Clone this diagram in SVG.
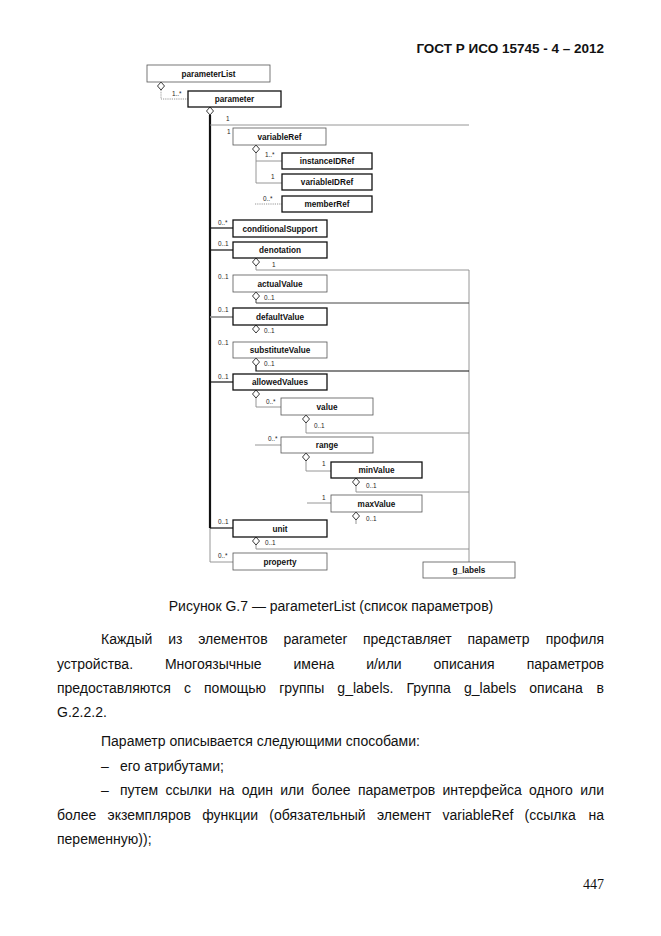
<svg xmlns="http://www.w3.org/2000/svg" width="661" height="936" viewBox="0 0 661 936">
<defs>
<style>
.bg{fill:#fff}
.bx{fill:#fff;stroke:#555;stroke-width:0.8}
.bk{fill:#fff;stroke:#111;stroke-width:1.3}
.lb{font-family:"Liberation Sans",Arial,sans-serif;font-size:8.2px;font-weight:bold;fill:#111;text-anchor:middle}
.m{font-family:"Liberation Sans",Arial,sans-serif;font-size:6.4px;fill:#222}
.g{fill:none;stroke:#8a8a8a;stroke-width:0.9}
.gd{fill:none;stroke:#8a8a8a;stroke-width:0.9;stroke-dasharray:1.2 1}
.k{fill:none;stroke:#111;stroke-width:1.2}
.dk{fill:none;stroke:#444;stroke-width:1}
.dm{fill:#fff;stroke:#222;stroke-width:0.9}
.t{font-family:"Liberation Sans",Arial,sans-serif;font-size:14px;fill:#111}
.e{text-anchor:end}
</style>
<path id="dia" d="M0,0 L3.5,4 L0,8 L-3.5,4 Z"/>
</defs>
<rect class="bg" x="0" y="0" width="661" height="936"/>

<text x="604" y="53" font-family="Liberation Sans, Arial, sans-serif" font-size="13.5" font-weight="bold" text-anchor="end" fill="#111">ГОСТ Р ИСО 15745 - 4 – 2012</text>

<g id="connectors">
<path class="gd" d="M161 90 V99 H188"/>
<path fill="none" stroke="#111" stroke-width="2.2" d="M210 115 V528"/>
<path class="g" d="M210 528 V562 H233"/>
<path class="g" d="M210 125 H469"/>
<path class="g" d="M256 153 V183 H282 M256 161 H282"/>
<path class="gd" d="M255 204 H282"/>
<path class="k" d="M210 228 H233"/>
<path class="k" d="M210 250 H233"/>
<path class="g" d="M256 266 V270 H469 V562"/>
<path class="dk" d="M256 300 V303 H469"/>
<path fill="none" stroke="#8a8a8a" stroke-width="1.6" d="M210 317 H233"/>
<path class="k" d="M256 366 V371 H469"/>
<path class="k" d="M210 382 H233"/>
<path class="g" d="M256 398 V407 H281"/>
<path class="g" d="M306 423 V433 H469"/>
<path class="g" d="M255 445 H281"/>
<path class="g" d="M306 461 V471 H331"/>
<path class="g" d="M356 486 V492 H469"/>
<path class="g" d="M307 503 H331"/>
<path class="g" d="M356 520 V524"/>
<path class="k" d="M210 528 H233"/>
<path class="g" d="M256 545 V549 H469"/>
</g>

<g id="diamonds">
<use href="#dia" class="dm" x="161" y="82"/>
<use href="#dia" class="dm" x="210" y="107"/>
<use href="#dia" class="dm" x="256" y="145"/>
<use href="#dia" class="dm" x="256" y="258"/>
<use href="#dia" class="dm" x="256" y="292"/>
<use href="#dia" class="dm" x="256" y="325"/>
<use href="#dia" class="dm" x="256" y="358"/>
<use href="#dia" class="dm" x="256" y="390"/>
<use href="#dia" class="dm" x="306" y="415"/>
<use href="#dia" class="dm" x="306" y="453"/>
<use href="#dia" class="dm" x="356" y="478"/>
<use href="#dia" class="dm" x="356" y="512"/>
<use href="#dia" class="dm" x="256" y="537"/>
</g>

<g id="multiplicities">
<text class="m" x="172" y="96">1..*</text>
<text class="m" x="226" y="121">1</text>
<text class="m" x="227" y="134">1</text>
<text class="m" x="265" y="157">1..*</text>
<text class="m" x="271" y="179">1</text>
<text class="m" x="263" y="201">0..*</text>
<text class="m" x="218" y="225">0..*</text>
<text class="m" x="218" y="246">0..1</text>
<text class="m" x="272" y="267">1</text>
<text class="m" x="218" y="279">0..1</text>
<text class="m" x="264" y="300">0..1</text>
<text class="m" x="218" y="312">0..1</text>
<text class="m" x="264" y="333">0..1</text>
<text class="m" x="218" y="345">0..1</text>
<text class="m" x="264" y="366">0..1</text>
<text class="m" x="218" y="379">0..1</text>
<text class="m" x="266" y="404">0..*</text>
<text class="m" x="314" y="428">0..1</text>
<text class="m" x="268" y="441">0..*</text>
<text class="m" x="322" y="466">1</text>
<text class="m" x="366" y="488">0..1</text>
<text class="m" x="322" y="500">1</text>
<text class="m" x="366" y="521">0..1</text>
<text class="m" x="218" y="524">0..1</text>
<text class="m" x="265" y="545">0..1</text>
<text class="m" x="218" y="558">0..*</text>
</g>

<g id="n-parameterList"><rect class="bx" x="147" y="65" width="123" height="17"/><text class="lb" x="208.5" y="76.5">parameterList</text></g>
<g id="n-parameter"><rect class="bk" x="188" y="91" width="93" height="16"/><text class="lb" x="234.5" y="102">parameter</text></g>
<g id="n-variableRef"><rect class="bx" x="233" y="128" width="93" height="17"/><text class="lb" x="279.5" y="139.5">variableRef</text></g>
<g id="n-instanceIDRef"><rect class="bk" x="282" y="153" width="90" height="16"/><text class="lb" x="327" y="164">instanceIDRef</text></g>
<g id="n-variableIDRef"><rect class="bk" x="282" y="174" width="90" height="16"/><text class="lb" x="327" y="185">variableIDRef</text></g>
<g id="n-memberRef"><rect class="bk" x="282" y="196" width="90" height="16"/><text class="lb" x="327" y="207">memberRef</text></g>
<g id="n-conditionalSupport"><rect class="bk" x="233" y="220" width="94" height="17"/><text class="lb" x="280" y="231.5">conditionalSupport</text></g>
<g id="n-denotation"><rect class="bk" x="233" y="242" width="94" height="16"/><text class="lb" x="280" y="253">denotation</text></g>
<g id="n-actualValue"><rect class="bx" x="233" y="275" width="94" height="17"/><text class="lb" x="280" y="286.5">actualValue</text></g>
<g id="n-defaultValue"><rect class="bk" x="233" y="308" width="94" height="17"/><text class="lb" x="280" y="319.5">defaultValue</text></g>
<g id="n-substituteValue"><rect class="bx" x="233" y="342" width="94" height="16"/><text class="lb" x="280" y="353">substituteValue</text></g>
<g id="n-allowedValues"><rect class="bk" x="233" y="374" width="94" height="16"/><text class="lb" x="280" y="385">allowedValues</text></g>
<g id="n-value"><rect class="bx" x="281" y="398" width="92" height="17"/><text class="lb" x="327" y="409.5">value</text></g>
<g id="n-range"><rect class="bx" x="281" y="437" width="92" height="16"/><text class="lb" x="327" y="448">range</text></g>
<g id="n-minValue"><rect class="bk" x="331" y="462" width="91" height="16"/><text class="lb" x="376.5" y="473">minValue</text></g>
<g id="n-maxValue"><rect class="bx" x="331" y="495" width="91" height="17"/><text class="lb" x="376.5" y="506.5">maxValue</text></g>
<g id="n-unit"><rect class="bk" x="233" y="520" width="94" height="17"/><text class="lb" x="280" y="531.5">unit</text></g>
<g id="n-property"><rect class="bx" x="233" y="553" width="94" height="17"/><text class="lb" x="280" y="564.5">property</text></g>
<g id="n-g_labels"><rect class="bx" x="423" y="562" width="92" height="16"/><text class="lb" x="469" y="573">g_labels</text></g>

<g id="body-text">
<text class="t" x="331" y="611" text-anchor="middle" font-size="13.8">Рисунок G.7 — parameterList (список параметров)</text>
<text class="t" x="101" y="644" word-spacing="11.9">Каждый из элементов parameter представляет параметр</text>
<text class="t e" x="604" y="644">профиля</text>
<text class="t" x="57" y="668.5" word-spacing="28">устройства. Многоязычные имена и/или описания</text>
<text class="t e" x="604" y="668.5">параметров</text>
<text class="t" x="57" y="693" word-spacing="9.25">предоставляются с помощью группы g_labels. Группа g_labels описана</text>
<text class="t e" x="604" y="693">в</text>
<text class="t" x="57" y="717">G.2.2.2.</text>
<text class="t" x="101" y="746">Параметр описывается следующими способами:</text>
<text class="t" x="101" y="770.5">–</text>
<text class="t" x="120" y="770.5">его атрибутами;</text>
<text class="t" x="101" y="795">–</text>
<text class="t" x="120" y="795" word-spacing="3.4">путем ссылки на один или более параметров интерфейса одного</text>
<text class="t e" x="604" y="795">или</text>
<text class="t" x="57" y="819.5" word-spacing="7.37">более экземпляров функции (обязательный элемент variableRef (ссылка</text>
<text class="t e" x="604" y="819.5">на</text>
<text class="t" x="57" y="844">переменную));</text>
<text x="604" y="889" font-family="Liberation Serif, Times New Roman, serif" font-size="14" text-anchor="end" fill="#111">447</text>
</g>
</svg>
